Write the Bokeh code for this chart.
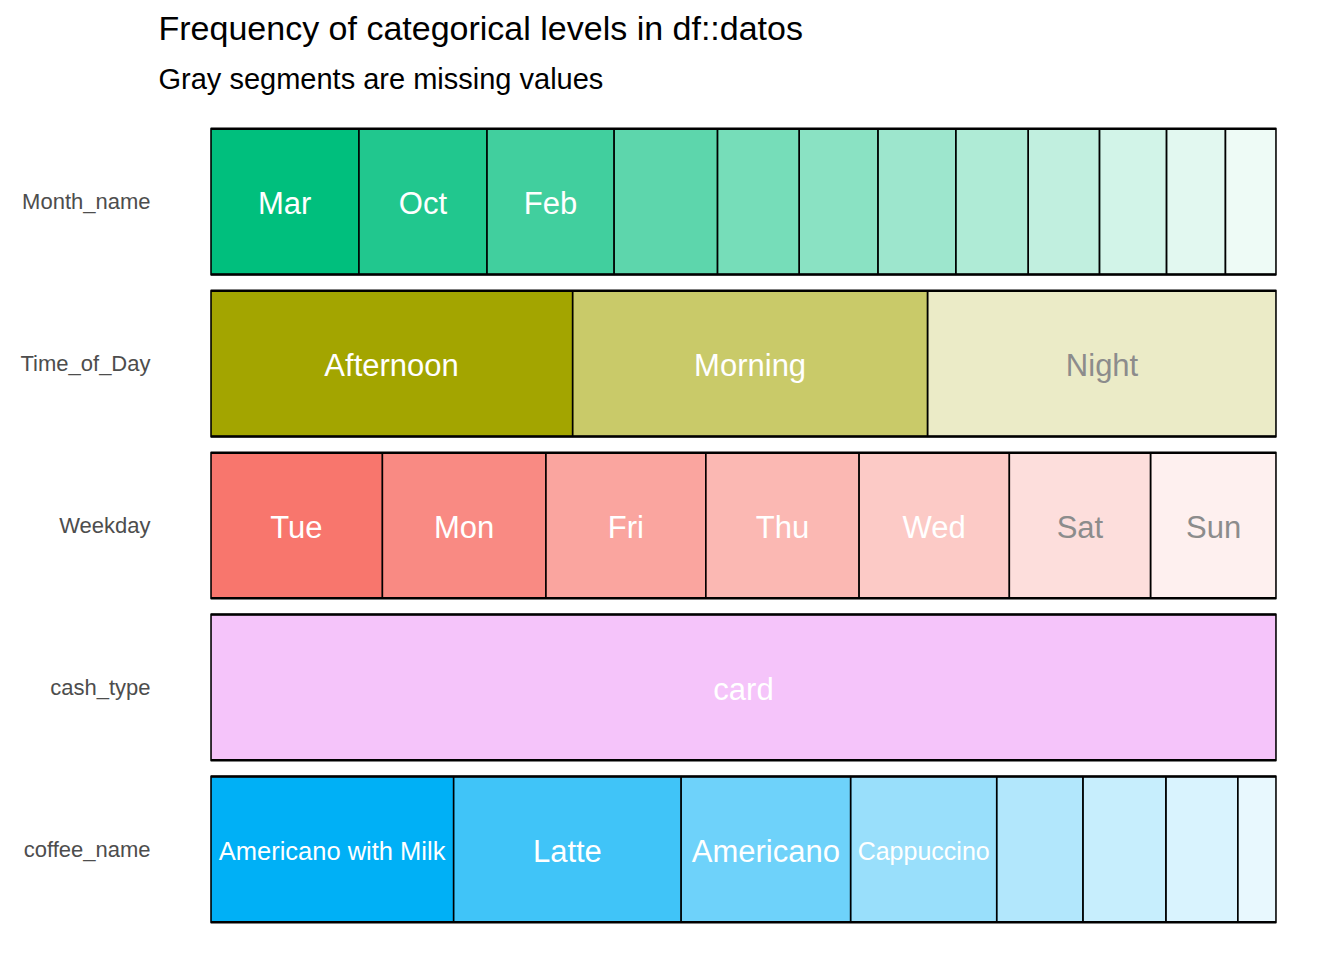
import numpy as np
from bokeh.plotting import figure
from bokeh.models import ColumnDataSource, Range1d, Title, FixedTicker
from bokeh.embed import file_html
from bokeh.resources import INLINE
from bokeh.core.properties import value

# ---------------- data ----------------
columns = ["Month_name", "Time_of_Day", "Weekday", "cash_type", "coffee_name"]

month_levels = ["Mar", "Oct", "Feb", "Sep", "Dec", "Jun", "May", "Nov", "Aug", "Jul", "Apr", "Jan"]
month_counts = [494, 426, 423, 344, 272, 262, 259, 241, 237, 223, 196, 170]

time_levels = ["Afternoon", "Morning", "Night"]
time_counts = [1205, 1181, 1161]

weekday_levels = ["Tue", "Mon", "Fri", "Thu", "Wed", "Sat", "Sun"]
weekday_counts = [572, 544, 532, 510, 500, 470, 419]

cash_levels = ["card"]
cash_counts = [3547]

coffee_levels = ["Americano with Milk", "Latte", "Americano", "Cappuccino",
                 "Cortado", "Hot Chocolate", "Cocoa", "Espresso"]
coffee_counts = [809, 757, 564, 486, 287, 276, 239, 129]

title_text = "Frequency of categorical levels in df::datos"
subtitle_text = "Gray segments are missing values"

# ---------------- styles ----------------
FONT = "Liberation Sans"
base_colors = {
    "Month_name": "#00BF7D",
    "Time_of_Day": "#A3A500",
    "Weekday": "#F8766D",
    "cash_type": "#E76BF3",
    "coffee_name": "#00B0F6",
}
alphas = {
    "Month_name": [1.0, 0.87, 0.745, 0.635, 0.537, 0.459, 0.384, 0.314, 0.243, 0.176, 0.114, 0.067],
    "Time_of_Day": [1.0, 0.59, 0.22],
    "Weekday": [1.0, 0.85, 0.66, 0.52, 0.39, 0.24, 0.11],
    "cash_type": [0.40],
    "coffee_name": [1.0, 0.75, 0.57, 0.40, 0.30, 0.22, 0.15, 0.09],
}
label_size_override = {"Americano with Milk": "25.5px", "Cappuccino": "25px"}
default_label_size = "31px"

rows = {
    "Month_name": (month_levels, month_counts),
    "Time_of_Day": (time_levels, time_counts),
    "Weekday": (weekday_levels, weekday_counts),
    "cash_type": (cash_levels, cash_counts),
    "coffee_name": (coffee_levels, coffee_counts),
}
ypos = {c: len(columns) - i for i, c in enumerate(columns)}

seg = dict(left=[], right=[], top=[], bottom=[], color=[], alpha=[])
lab = dict(x=[], y=[], text=[], size=[], tcolor=[])
outer = dict(left=[], right=[], top=[], bottom=[])
bar_h = 0.9
for c in columns:
    levels, counts = rows[c]
    counts = np.array(counts, dtype=float)
    props = counts / counts.sum()
    edges = np.concatenate([[0], np.cumsum(props)])
    y = ypos[c]
    for i, lev in enumerate(levels):
        a = alphas[c][i]
        seg["left"].append(edges[i]); seg["right"].append(edges[i + 1])
        seg["top"].append(y + bar_h / 2); seg["bottom"].append(y - bar_h / 2)
        seg["color"].append(base_colors[c]); seg["alpha"].append(a)
        if props[i] >= 0.1:
            lab["x"].append((edges[i] + edges[i + 1]) / 2)
            lab["y"].append(y)
            lab["text"].append(lev)
            lab["size"].append(label_size_override.get(lev, default_label_size))
            lab["tcolor"].append("#FFFFFF" if a >= 0.3 else "#8C8C8C")
    outer["left"].append(0); outer["right"].append(1)
    outer["top"].append(y + bar_h / 2); outer["bottom"].append(y - bar_h / 2)

main_title = Title(text=title_text, text_font=FONT, text_font_size="34px",
                   text_font_style="normal", text_color="black", align="left",
                   offset=-52, standoff=8)

p = figure(width=1344, height=960, output_backend="svg", toolbar_location=None,
           x_range=Range1d(0, 1), y_range=Range1d(0.4, 5.6),
           x_axis_location=None, min_border_left=210, min_border_right=68,
           min_border_top=104, min_border_bottom=14, title=main_title)
p.add_layout(Title(text=subtitle_text, text_font=FONT, text_font_size="29px",
                   text_font_style="normal", text_color="black", align="left",
                   offset=-52, standoff=20), "above")
p.outline_line_color = None
p.grid.visible = False
p.background_fill_color = "white"
p.border_fill_color = "white"

p.quad(left="left", right="right", top="top", bottom="bottom",
       source=ColumnDataSource(seg), fill_color="color", fill_alpha="alpha",
       line_color="black", line_width=1.5)
p.quad(left="left", right="right", top="top", bottom="bottom",
       source=ColumnDataSource(outer), fill_color=None,
       line_color="black", line_width=2.5)
p.text(x="x", y="y", text="text", source=ColumnDataSource(lab),
       text_font=value(FONT), text_font_size="size", text_color="tcolor",
       text_align="center", text_baseline="middle", y_offset=2)

yax = p.yaxis[0]
yax.ticker = FixedTicker(ticks=[ypos[c] for c in columns])
yax.major_label_overrides = {ypos[c]: c for c in columns}
yax.axis_line_color = None
yax.major_tick_line_color = None
yax.minor_tick_line_color = None
yax.major_tick_in = 0
yax.major_tick_out = 0
yax.major_label_standoff = 60
yax.major_label_text_font = FONT
yax.major_label_text_font_size = "22px"
yax.major_label_text_color = "#4D4D4D"

open("out.html", "w").write(file_html(p, INLINE))
